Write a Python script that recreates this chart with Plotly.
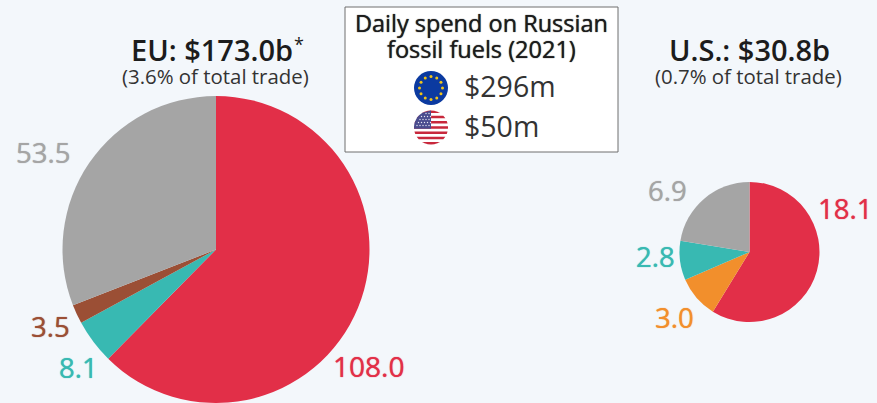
import math
import plotly.graph_objects as go

W, H = 877, 403
eu_categories = ["Oil", "Gas", "Coal", "Other"]
eu_values = [108.0, 8.1, 3.5, 53.5]
us_categories = ["Oil", "Coal", "Gas", "Other"]
us_values = [18.1, 3.0, 2.8, 6.9]
eu_colors = ["#E22F48", "#38B9B2", "#9B4F35", "#A5A5A5"]
us_colors = ["#E22F48", "#F28F2C", "#38B9B2", "#A5A5A5"]
BG = "#F3F7FB"
FONT = "Open Sans"


def dom(cx, cy, r):
    return dict(x=[(cx - r) / W, (cx + r) / W], y=[1 - (cy + r) / H, 1 - (cy - r) / H])


def px(x, y):
    return x / W, 1 - y / H


def note(x, y, text, size, color, weight=400, anchor="center", shadow=None):
    xx, yy = px(x, y)
    font = dict(family=FONT, size=size, color=color, weight=weight)
    if shadow:
        font["shadow"] = f"0 0 1px {color}"
    return dict(x=xx, y=yy, xref="paper", yref="paper", text=text,
                showarrow=False, xanchor=anchor, yanchor="middle", font=font)


def circle(cx, cy, r, fill):
    x0, y1 = px(cx - r, cy - r)
    x1, y0 = px(cx + r, cy + r)
    return dict(type="circle", xref="paper", yref="paper", x0=x0, x1=x1, y0=y0, y1=y1,
                fillcolor=fill, line=dict(width=0), layer="above")


def band(cx, cy, r, top, bottom, fill, max_x=None):
    """Part of a disc between two pixel rows, drawn as a filled path."""
    n = 8
    rows = [top + (bottom - top) * i / n for i in range(n + 1)]
    half = [math.sqrt(max(r * r - (y - cy) ** 2, 0)) for y in rows]
    pts = [(cx - h, y) for h, y in zip(half, rows)]
    pts += [(min(cx + h, max_x) if max_x else cx + h, y) for h, y in zip(half[::-1], rows[::-1])]
    coords = [px(*p) for p in pts]
    path = "M" + " L".join(f"{a:.5f},{b:.5f}" for a, b in coords) + " Z"
    return dict(type="path", xref="paper", yref="paper", path=path, fillcolor=fill,
                line=dict(width=0), layer="above")


fig = go.Figure()
fig.add_trace(go.Pie(labels=eu_categories, values=eu_values, domain=dom(216, 249.5, 153.5), sort=False,
                     direction="clockwise", rotation=0, textinfo="none", hoverinfo="label+value",
                     marker=dict(colors=eu_colors, line=dict(width=0)), showlegend=False))
fig.add_trace(go.Pie(labels=us_categories, values=us_values, domain=dom(749.5, 252, 70), sort=False,
                     direction="clockwise", rotation=0, textinfo="none", hoverinfo="label+value",
                     marker=dict(colors=us_colors, line=dict(width=0)), showlegend=False))

x0, y1 = px(345, 7)
x1, y0 = px(618, 152)
shapes = [dict(type="rect", xref="paper", yref="paper", x0=x0, x1=x1, y0=y0, y1=y1,
               fillcolor="#FFFFFF", line=dict(color="#6E6E6E", width=1), layer="above")]

# EU flag
ex, ey, er = 431, 88, 17
shapes.append(circle(ex, ey, er, "#0B3AA0"))
for i in range(12):
    a = i * math.pi / 6
    shapes.append(circle(ex + 11.5 * math.sin(a), ey - 11.5 * math.cos(a), 1.5, "#F0C419"))

# US flag
ux, uy, ur = 431, 127.5, 17
shapes.append(circle(ux, uy, ur, "#FFFFFF"))
step = 2 * ur / 13
for i in range(0, 13, 2):
    shapes.append(band(ux, uy, ur, uy - ur + i * step, uy - ur + (i + 1) * step, "#C8283C"))
shapes.append(band(ux, uy, ur, uy - ur, uy + step * 0.5, "#4A4C8E", max_x=ux))
for r in range(5):
    for c in range(5):
        dx = ux - 14 + c * 3 + (r % 2) * 1.5
        dy = uy - 14 + r * 3
        if (dx - ux) ** 2 + (dy - uy) ** 2 < (ur - 1.5) ** 2:
            shapes.append(circle(dx, dy, 0.7, "#E6E6F2"))

anns = [
    note(212, 49.5, "EU: $173.0b", 29, "#1C1C1C", weight=600),
    note(299, 44, "*", 18, "#1C1C1C"),
    note(215, 76, "(3.6% of total trade)", 20.4, "#333333"),
    note(749, 49.5, "U.S.: $30.8b", 29, "#1C1C1C", weight=600),
    note(748, 76, "(0.7% of total trade)", 20.4, "#333333"),
    note(481, 23, "Daily spend on Russian", 23.5, "#1C1C1C", shadow=True),
    note(481, 49, "fossil fuels (2021)", 23.5, "#1C1C1C", shadow=True),
    note(462, 86, "$296m", 28.5, "#333333", anchor="left"),
    note(462, 126, "$50m", 28.5, "#333333", anchor="left"),
    note(43, 152, f"{eu_values[3]:.1f}", 27.5, eu_colors[3], shadow=True),
    note(368, 366, f"{eu_values[0]:.1f}", 28, eu_colors[0], shadow=True),
    note(50, 326, f"{eu_values[2]:.1f}", 27.5, eu_colors[2], shadow=True),
    note(78, 367, f"{eu_values[1]:.1f}", 27.5, eu_colors[1], shadow=True),
    note(845, 208, f"{us_values[0]:.1f}", 27.5, us_colors[0], shadow=True),
    note(674, 317, f"{us_values[1]:.1f}", 27.5, us_colors[1], shadow=True),
    note(655, 256, f"{us_values[2]:.1f}", 27.5, us_colors[2], shadow=True),
    note(667, 191, f"{us_values[3]:.1f}", 27.5, us_colors[3], shadow=True),
]

fig.update_layout(width=W, height=H, margin=dict(l=0, r=0, t=0, b=0), paper_bgcolor=BG, plot_bgcolor=BG,
                  font=dict(family=FONT), shapes=shapes, annotations=anns, showlegend=False)
fig.write_html("out.html", config={"displayModeBar": False},
               post_script="document.body.style.margin='0';document.body.style.background='#F3F7FB';document.body.style.overflow='hidden';")
